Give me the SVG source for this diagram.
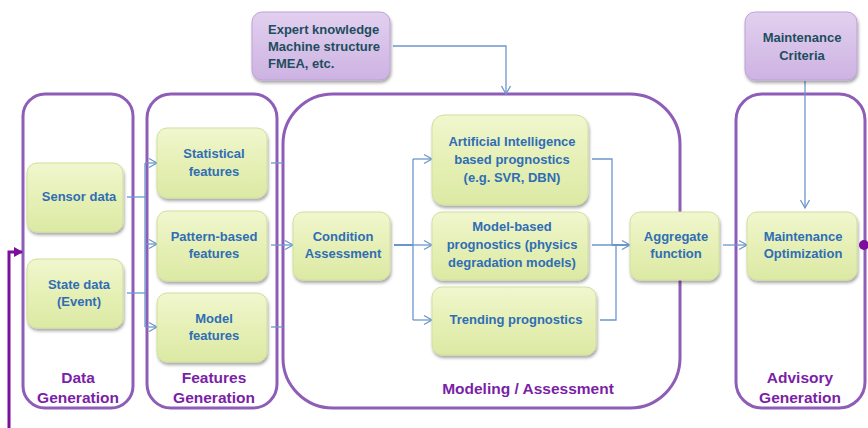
<svg xmlns="http://www.w3.org/2000/svg" width="868" height="428" viewBox="0 0 868 428">
<defs>
<linearGradient id="gGreen" x1="0" y1="0" x2="0" y2="1">
<stop offset="0" stop-color="#f0f7cf"/>
<stop offset="0.5" stop-color="#e6f0b6"/>
<stop offset="1" stop-color="#dce9a4"/>
</linearGradient>
<linearGradient id="gPurple" x1="0" y1="0" x2="0" y2="1">
<stop offset="0" stop-color="#e2d0ef"/>
<stop offset="1" stop-color="#cdb3e2"/>
</linearGradient>
<filter id="sh" x="-10%" y="-10%" width="125%" height="130%">
<feDropShadow dx="1" dy="2.5" stdDeviation="1.6" flood-color="#000" flood-opacity="0.35"/>
</filter>
<marker id="ah" markerWidth="12" markerHeight="12" refX="10" refY="6" orient="auto" markerUnits="userSpaceOnUse">
<path d="M2,1.5 L10,6 L2,10.5" fill="none" stroke="#6b96cc" stroke-width="1.3"/>
</marker>
<marker id="ahP" markerWidth="12" markerHeight="12" refX="9" refY="6" orient="auto" markerUnits="userSpaceOnUse">
<path d="M1,1 L10,6 L1,11 Z" fill="#7a0f9c"/>
</marker>
</defs>
<style>
.cont{fill:none;stroke:#8e5db8;stroke-width:3}
.gn{fill:url(#gGreen);stroke:#d2df9c;stroke-width:1;filter:url(#sh)}
.pn{fill:url(#gPurple);stroke:#bda2d6;stroke-width:1;filter:url(#sh)}
.t{font-family:"Liberation Sans",Arial,sans-serif;font-weight:bold;font-size:13px;fill:#2f6db5;text-anchor:middle}
.tp{font-family:"Liberation Sans",Arial,sans-serif;font-weight:bold;font-size:13px;fill:#1d4d5e}
.lab{font-family:"Liberation Sans",Arial,sans-serif;font-weight:bold;font-size:15.5px;fill:#7a1fa6;text-anchor:middle}
.c{fill:none;stroke:#6b96cc;stroke-width:1.3}
</style>

<g id="containers">
<rect id="data-generation" class="cont" x="23" y="94" width="110" height="314" rx="22"/>
<rect id="features-generation" class="cont" x="147" y="94" width="130" height="314" rx="24"/>
<rect id="modeling-assessment" class="cont" x="283" y="94" width="397" height="314" rx="50"/>
<rect id="advisory-generation" class="cont" x="736" y="94" width="129" height="314" rx="26"/>
<text class="lab" x="78" y="383">Data</text>
<text class="lab" x="78" y="403">Generation</text>
<text class="lab" x="214" y="383">Features</text>
<text class="lab" x="214" y="403">Generation</text>
<text class="lab" x="528" y="394">Modeling / Assessment</text>
<text class="lab" x="800" y="383">Advisory</text>
<text class="lab" x="800" y="403">Generation</text>
</g>

<g id="connectors">
<path class="c" d="M127,197 H145"/>
<path class="c" d="M127,293 H145"/>
<path class="c" d="M145,163 V327"/>
<path class="c" d="M145,163 H157" marker-end="url(#ah)"/>
<path class="c" d="M145,244 H157" marker-end="url(#ah)"/>
<path class="c" d="M145,327 H157" marker-end="url(#ah)"/>
<path class="c" d="M271,163 H283"/>
<path class="c" d="M271,327 H283"/>
<path class="c" d="M271,245 H293" marker-end="url(#ah)"/>
<path class="c" d="M394,245 H413" style="stroke-width:2"/>
<path class="c" d="M413,159 V320"/>
<path class="c" d="M413,159 H432" marker-end="url(#ah)"/>
<path class="c" d="M413,245 H432" marker-end="url(#ah)"/>
<path class="c" d="M413,320 H432" marker-end="url(#ah)"/>
<path class="c" d="M592,159 H612 V245"/>
<path class="c" d="M600,320 H616 V245"/>
<path class="c" d="M592,245 H630" marker-end="url(#ah)"/>
<path class="c" d="M612,245 H628" style="stroke-width:2"/>
<path class="c" d="M723,245 H747" marker-end="url(#ah)"/>
<path class="c" d="M393,46 H506 V94" marker-end="url(#ah)"/>
<path class="c" d="M805,81 V208" marker-end="url(#ah)"/>
<path d="M9,428 V252 H22" fill="none" stroke="#7a0f9c" stroke-width="3" marker-end="url(#ahP)"/>
<circle cx="864" cy="245" r="5" fill="#7a0f9c"/>
</g>

<g id="expert-knowledge">
<rect class="pn" x="252" y="12" width="138" height="68" rx="10"/>
<text class="tp" x="268" y="34">Expert knowledge</text>
<text class="tp" x="268" y="51">Machine structure</text>
<text class="tp" x="268" y="68">FMEA, etc.</text>
</g>
<g id="maintenance-criteria">
<rect class="pn" x="745" y="12" width="112" height="68" rx="10"/>
<text class="t" x="802" y="42" style="fill:#1d4d5e">Maintenance</text>
<text class="t" x="802" y="60" style="fill:#1d4d5e">Criteria</text>
</g>

<g id="sensor-data">
<rect class="gn" x="27" y="163" width="96" height="69" rx="10"/>
<text class="t" x="79" y="201">Sensor data</text>
</g>
<g id="state-data">
<rect class="gn" x="27" y="259" width="96" height="69" rx="10"/>
<text class="t" x="79" y="289">State data</text>
<text class="t" x="79" y="306">(Event)</text>
</g>
<g id="statistical-features">
<rect class="gn" x="157" y="128" width="110" height="70" rx="10"/>
<text class="t" x="214" y="158">Statistical</text>
<text class="t" x="214" y="176">features</text>
</g>
<g id="pattern-features">
<rect class="gn" x="157" y="211" width="110" height="70" rx="10"/>
<text class="t" x="214" y="241">Pattern-based</text>
<text class="t" x="214" y="258">features</text>
</g>
<g id="model-features">
<rect class="gn" x="157" y="293" width="110" height="69" rx="10"/>
<text class="t" x="214" y="323">Model</text>
<text class="t" x="214" y="340">features</text>
</g>
<g id="condition-assessment">
<rect class="gn" x="293" y="212" width="97" height="68" rx="10"/>
<text class="t" x="343" y="241">Condition</text>
<text class="t" x="343" y="258">Assessment</text>
</g>
<g id="ai-prognostics">
<rect class="gn" x="432" y="115" width="156" height="90" rx="12"/>
<text class="t" x="512" y="146">Artificial Intelligence</text>
<text class="t" x="512" y="164">based prognostics</text>
<text class="t" x="512" y="182">(e.g. SVR, DBN)</text>
</g>
<g id="model-prognostics">
<rect class="gn" x="432" y="212" width="156" height="68" rx="10"/>
<text class="t" x="512" y="231">Model-based</text>
<text class="t" x="512" y="249">prognostics (physics</text>
<text class="t" x="512" y="267">degradation models)</text>
</g>
<g id="trending-prognostics">
<rect class="gn" x="432" y="287" width="164" height="68" rx="10"/>
<text class="t" x="516" y="324">Trending prognostics</text>
</g>
<g id="aggregate-function">
<rect class="gn" x="630" y="212" width="89" height="68" rx="10"/>
<text class="t" x="676" y="241">Aggregate</text>
<text class="t" x="676" y="258">function</text>
</g>
<g id="maintenance-optimization">
<rect class="gn" x="747" y="212" width="110" height="68" rx="10"/>
<text class="t" x="803" y="241">Maintenance</text>
<text class="t" x="803" y="258">Optimization</text>
</g>
</svg>
